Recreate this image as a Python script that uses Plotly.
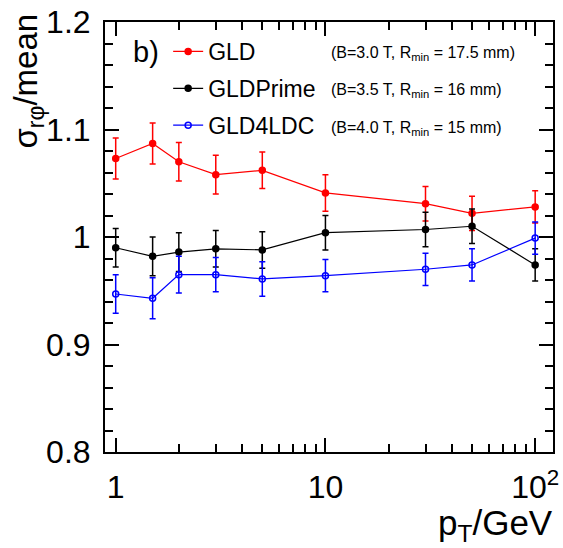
import plotly.graph_objects as go

# ---- data ----
pt = [1, 1.5, 2, 3, 5, 10, 30, 50, 100]

gld_val = [1.073, 1.087, 1.070, 1.058, 1.062, 1.041, 1.031, 1.022, 1.028]
gld_err = [0.019, 0.019, 0.018, 0.018, 0.017, 0.017, 0.016, 0.016, 0.015]

prime_val = [0.990, 0.982, 0.986, 0.989, 0.988, 1.004, 1.007, 1.010, 0.974]
prime_err = [0.018, 0.018, 0.018, 0.017, 0.017, 0.016, 0.016, 0.016, 0.015]

ldc_val = [0.947, 0.943, 0.965, 0.965, 0.961, 0.964, 0.970, 0.974, 0.999]
ldc_err = [0.018, 0.019, 0.017, 0.016, 0.016, 0.015, 0.015, 0.015, 0.015]

names = ["GLD", "GLDPrime", "GLD4LDC"]
conditions = ["(B=3.0 T, R<sub>min</sub> = 17.5 mm)",
              "(B=3.5 T, R<sub>min</sub> = 16 mm)",
              "(B=4.0 T, R<sub>min</sub> = 15 mm)"]
colors = ["#ff0000", "#000000", "#0000ff"]
symbols = ["circle", "circle", "circle-open"]

x_tickvals = [1, 10, 100]
x_ticktext = ["1", "10", "10<sup>2</sup>"]
x_minor = [2, 3, 4, 5, 6, 7, 8, 9, 20, 30, 40, 50, 60, 70, 80, 90]
y_tickvals = [0.8, 0.9, 1.0, 1.1, 1.2]
y_ticktext = ["0.8", "0.9", "1", "1.1", "1.2"]

W, H = 563, 548
L, R, T, B = 105, 559, 18, 452
FONT = "Liberation Sans, Arial, sans-serif"

def px(x):
    return (x - L) / (R - L)

def py(y):
    return (B - y) / (B - T)

fig = go.Figure()
series = [gld_val, prime_val, ldc_val]
errs = [gld_err, prime_err, ldc_err]
for i in range(3):
    fig.add_trace(go.Scatter(
        x=pt, y=series[i], name=names[i], mode="lines+markers",
        legendgroup=names[i],
        line=dict(color=colors[i], width=1.2),
        marker=dict(color=colors[i], symbol=symbols[i], size=6,
                    line=dict(color=colors[i], width=1.5)),
        error_y=dict(type="data", array=errs[i], visible=True,
                     color=colors[i], thickness=1.5, width=3),
    ))

axis_common = dict(showline=True, linecolor="black", linewidth=2, mirror="allticks",
                   ticks="inside", tickcolor="black", tickwidth=1.5, ticklen=14,
                   showgrid=False, zeroline=False,
                   tickfont=dict(family=FONT, size=32, color="black"))

fig.update_xaxes(type="log", range=[-0.051, 2.085], tickvals=x_tickvals, ticktext=x_ticktext,
                 minor=dict(tickvals=x_minor, ticks="inside", ticklen=8, tickcolor="black", tickwidth=1.5),
                 ticklabelstandoff=6, ticklabeloverflow="allow",
                 **axis_common)
fig.update_yaxes(range=[0.8, 1.2], tickvals=y_tickvals, ticktext=y_ticktext,
                 minor=dict(dtick=0.02, tick0=0.8, ticks="inside", ticklen=8, tickcolor="black", tickwidth=1.5),
                 ticklabelstandoff=6, ticklabeloverflow="allow",
                 **axis_common)

annotations = [
    dict(text="p<sub>T</sub>/GeV", x=px(561), y=py(526), xref="paper", yref="paper",
         xanchor="right", yanchor="middle", showarrow=False,
         font=dict(family=FONT, size=35, color="black")),
    dict(text="σ<sub>rφ</sub>/mean", x=px(27), y=py(8), xref="paper", yref="paper",
         xanchor="center", yanchor="top", textangle=-90, showarrow=False,
         font=dict(family=FONT, size=33, color="black")),
    dict(text="b)", x=px(131), y=py(48), xref="paper", yref="paper",
         xanchor="left", yanchor="middle", showarrow=False,
         font=dict(family=FONT, size=29, color="black")),
]
for i, c in enumerate(conditions):
    annotations.append(dict(text=c, x=px(332), y=py(50 + 37.5 * i), xref="paper", yref="paper",
                            xanchor="left", yanchor="middle", showarrow=False,
                            font=dict(family=FONT, size=16, color="black")))

fig.update_layout(
    width=W, height=H,
    margin=dict(l=L, r=W - R, t=T, b=H - B),
    paper_bgcolor="white", plot_bgcolor="white",
    showlegend=True,
    legend=dict(x=px(169), y=py(26), xanchor="left", yanchor="top",
                bgcolor="rgba(0,0,0,0)", borderwidth=0,
                traceorder="grouped", tracegroupgap=4,
                font=dict(family=FONT, size=23, color="black"),
                itemwidth=30),
    annotations=annotations,
)

fig.write_html("out.html")
